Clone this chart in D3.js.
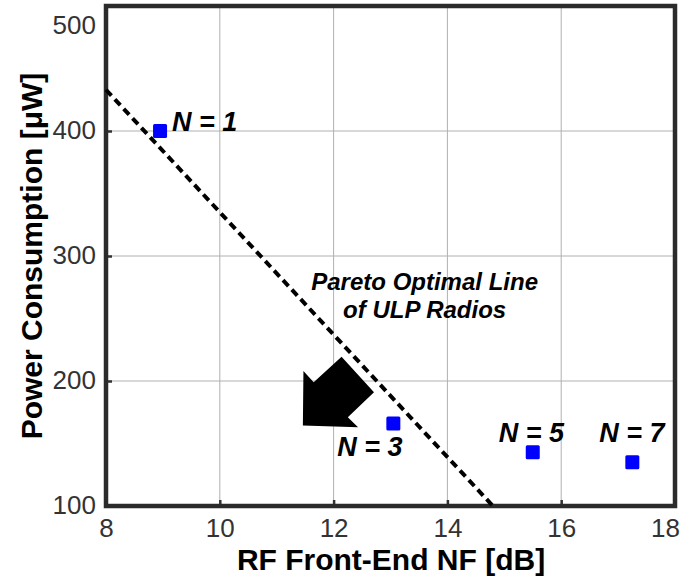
<!DOCTYPE html>
<html>
<head>
<meta charset="utf-8">
<script src="https://cdn.jsdelivr.net/npm/d3@7"></script>
<style>
  body { margin: 0; background: #fff; }
  svg { display: block; }
</style>
</head>
<body>
<svg id="chart" width="681" height="581"></svg>
<script>
// data
let radios = ['N = 1', 'N = 3', 'N = 5', 'N = 7']
let noiseFigure = [8.95, 13.05, 15.5, 17.25]
let power = [400, 166, 143, 135]
let paretoNF = [8, 14.8]
let paretoPower = [433, 100]
let xTicks = [8, 10, 12, 14, 16, 18]
let yTicks = [100, 200, 300, 400, 500]
// block arrow outline (data units), pointing down-left toward lower power / NF
let arrowNF = [11.46, 11.47, 11.65, 12.14, 12.71, 12.25, 12.43]
let arrowPower = [164.5, 208, 199, 219.5, 191, 171, 163]

let svg = d3.select('#chart')
let margin = { top: 6, right: 6, bottom: 75, left: 106 }
let width = +svg.attr('width') - margin.left - margin.right
let height = +svg.attr('height') - margin.top - margin.bottom
let g = svg.append('g').attr('transform', 'translate(' + margin.left + ',' + margin.top + ')')

let x = d3.scaleLinear().domain([8, 18]).range([0, width])
let y = d3.scaleLinear().domain([100, 500]).range([height, 0])

let font = '"Liberation Sans", Arial, sans-serif'

// grid
g.append('g')
  .selectAll('line')
  .data(xTicks.slice(1, -1))
  .enter().append('line')
  .attr('x1', d => x(d)).attr('x2', d => x(d))
  .attr('y1', 0).attr('y2', height)
  .attr('stroke', '#b0b0b0').attr('stroke-width', 1)
g.append('g')
  .selectAll('line')
  .data(yTicks.slice(1, -1))
  .enter().append('line')
  .attr('x1', 0).attr('x2', width)
  .attr('y1', d => y(d)).attr('y2', d => y(d))
  .attr('stroke', '#b0b0b0').attr('stroke-width', 1)

// axes (inward ticks)
let xAxis = g.append('g')
  .attr('transform', 'translate(0,' + height + ')')
  .call(d3.axisBottom(x).tickValues(xTicks).tickSize(-6).tickPadding(13).tickSizeOuter(0))
let yAxis = g.append('g')
  .call(d3.axisLeft(y).tickValues(yTicks).tickSize(-6).tickPadding(10).tickSizeOuter(0))

xAxis.select('.domain').remove()
yAxis.select('.domain').remove()
svg.selectAll('.tick line').attr('stroke', '#333').attr('stroke-width', 2.5)
svg.selectAll('.tick text')
  .attr('fill', '#333')
  .style('font-family', font)
  .style('font-size', '26px')
xAxis.selectAll('.tick text')
  .attr('dy', '0.71em')
  .attr('dx', d => d === 18 ? -10 : 0)
yAxis.selectAll('.tick text').attr('dy', d => d === 500 ? '1.05em' : '0.28em')

// frame
g.append('rect')
  .attr('x', 0).attr('y', 0)
  .attr('width', width).attr('height', height)
  .attr('fill', 'none')
  .attr('stroke', '#2b2b2b')
  .attr('stroke-width', 4.5)

// pareto line
g.append('line')
  .attr('x1', x(paretoNF[0])).attr('y1', y(paretoPower[0]))
  .attr('x2', x(paretoNF[1])).attr('y2', y(paretoPower[1]))
  .attr('stroke', '#000')
  .attr('stroke-width', 4)
  .attr('stroke-dasharray', '8,5')

// arrow
let arrowPts = arrowNF.map((d, i) => [x(d), y(arrowPower[i])])
g.append('path')
  .attr('d', d3.line()(arrowPts) + 'Z')
  .attr('fill', '#000')

// points
let pts = radios.map((r, i) => ({ name: r, nf: noiseFigure[i], p: power[i] }))
g.selectAll('rect.pt')
  .data(pts)
  .enter().append('rect')
  .attr('class', 'pt')
  .attr('x', d => x(d.nf) - 7)
  .attr('y', d => y(d.p) - 7)
  .attr('width', 14).attr('height', 14)
  .attr('rx', 1.5)
  .attr('fill', '#0000ff')

// point labels
let labelOffset = [[12, -9], [-56, 23], [-34, -20], [-33, -30]]
g.selectAll('text.pt')
  .data(pts)
  .enter().append('text')
  .attr('x', (d, i) => x(d.nf) + labelOffset[i][0])
  .attr('y', (d, i) => y(d.p) + labelOffset[i][1])
  .attr('dy', '0.35em')
  .style('font-family', font)
  .style('font-size', '27px')
  .style('font-weight', 'bold')
  .style('font-style', 'italic')
  .text(d => d.name)

// annotation
let noteX = x(13.6)
let note = g.append('text')
  .attr('x', noteX)
  .attr('y', 284)
  .attr('text-anchor', 'middle')
  .style('font-family', font)
  .style('font-size', '24px')
  .style('font-weight', 'bold')
  .style('font-style', 'italic')
note.append('tspan').attr('x', noteX).text('Pareto Optimal Line')
note.append('tspan').attr('x', noteX).attr('dy', 28).text('of ULP Radios')

// axis titles
svg.append('text')
  .attr('x', 391)
  .attr('y', 570)
  .attr('text-anchor', 'middle')
  .style('font-family', font)
  .style('font-size', '30px')
  .style('font-weight', 'bold')
  .text('RF Front-End NF [dB]')

svg.append('text')
  .attr('transform', 'translate(42,256) rotate(-90)')
  .attr('text-anchor', 'middle')
  .style('font-family', font)
  .style('font-size', '30px')
  .style('font-weight', 'bold')
  .text('Power Consumption [μW]')
</script>
</body>
</html>
